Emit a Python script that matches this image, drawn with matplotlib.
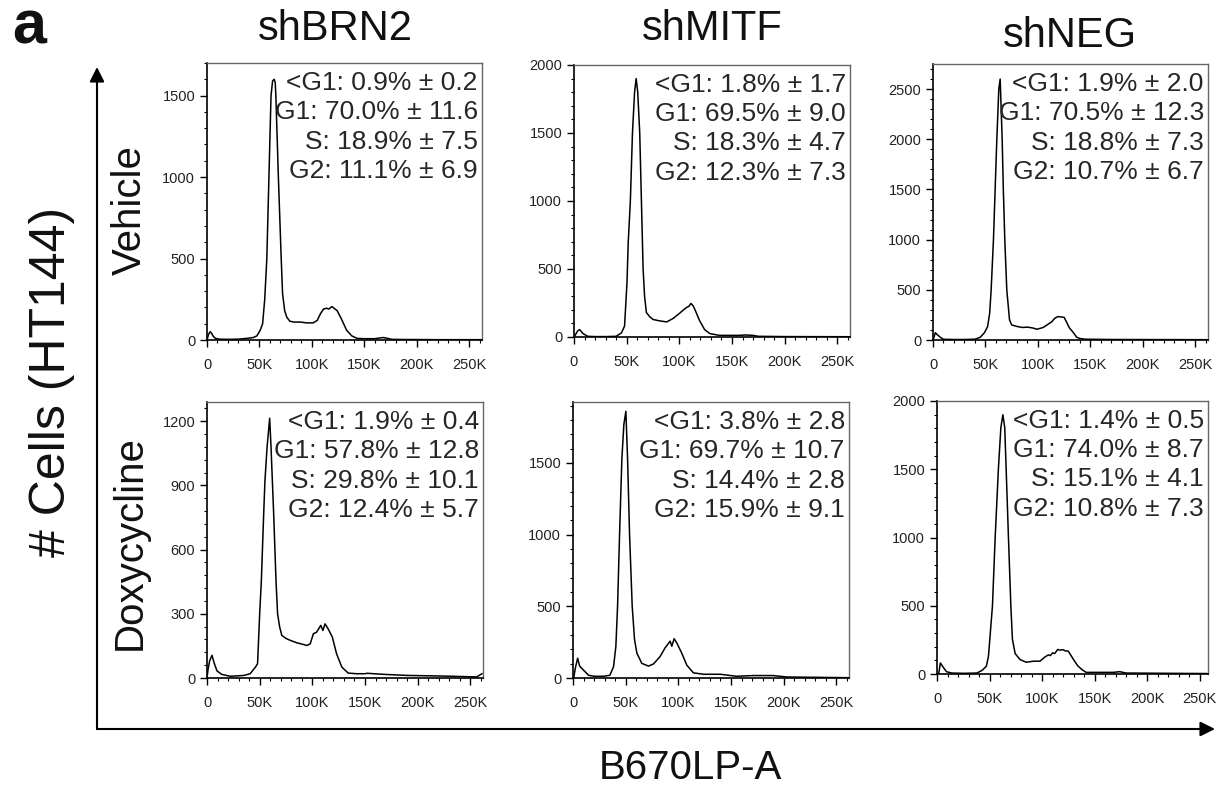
import numpy as np
import matplotlib.pyplot as plt
from matplotlib.ticker import AutoMinorLocator, FixedLocator

plt.rcParams['font.family'] = ['Liberation Sans', 'DejaVu Sans']

# DNA content histograms, x in thousands (B670LP-A), y = # cells
brn2_veh_x = [0, 1.5, 3, 4.5, 6, 8, 12, 20, 30, 38, 44, 47.5, 50.7, 53, 55, 57, 59, 61, 62.5, 64,
              65, 65.6, 68, 70.7, 72, 74, 76, 79, 83, 89, 95, 101, 105, 108, 111, 114, 116, 119, 121, 124,
              128, 133, 138, 143, 150, 160, 164, 168, 172, 176, 190, 220, 262]
brn2_veh_y = [0, 35, 51, 40, 22, 10, 5, 4, 5, 10, 15, 25, 60, 100, 250, 500, 1000, 1500, 1590, 1600,
              1580, 1500, 1000, 500, 285, 180, 140, 115, 110, 110, 105, 105, 120, 160, 190, 195, 190, 205, 195, 180,
              130, 60, 25, 10, 8, 8, 12, 15, 10, 4, 3, 2, 2]

mitf_veh_x = [0, 2, 3.5, 5.4, 8.6, 13, 20, 30, 40, 45, 48, 50.3, 51.5, 53.5, 55.5, 57.5, 59, 60.5, 62.4, 64,
              65.6, 67, 68.7, 72, 75, 81, 88, 94, 100, 104, 107, 109, 111, 113, 115, 119, 124, 129, 138, 157,
              163, 170, 175, 200, 262]
mitf_veh_y = [0, 25, 45, 54, 25, 5, 3, 3, 5, 30, 80, 400, 700, 1000, 1500, 1800, 1900, 1800, 1500, 1000,
              500, 300, 180, 148, 129, 119, 111, 136, 173, 200, 218, 225, 247, 230, 198, 124, 54, 25, 12, 12,
              15, 12, 5, 3, 2]

neg_veh_x = [0, 1, 2.2, 4.4, 7, 10, 20, 30, 40, 45, 49, 52, 54, 55.4, 57.6, 59.2, 60.8, 62.7, 64, 65.9,
             67, 68.4, 70.3, 72.9, 75, 80, 85, 90, 95, 99, 105, 110, 113, 116, 119, 122, 125, 127, 130, 133,
             137, 140, 145, 170, 262]
neg_veh_y = [0, 30, 73, 50, 27, 7, 5, 5, 8, 27, 73, 133, 267, 500, 1000, 1500, 2000, 2500, 2600, 2000,
             1500, 1000, 500, 200, 150, 135, 125, 128, 120, 107, 125, 160, 180, 217, 233, 230, 225, 183, 120, 83,
             27, 15, 8, 5, 3]

brn2_dox_x = [0, 1, 2.5, 4.7, 7, 9.5, 14, 22, 35, 41, 46, 48, 50, 51.6, 53.8, 55, 57, 59.5, 60.8, 63.3,
              65.5, 67, 69, 71, 75, 79, 85, 89, 95, 98, 101, 104, 106, 108, 110, 112, 115, 119, 123, 128,
              134, 142, 150, 152, 168, 190, 225, 256, 261]
brn2_dox_y = [0, 40, 80, 106, 67, 33, 17, 8, 12, 20, 51, 67, 300, 455, 766, 921, 1077, 1214, 1077, 766,
              455, 300, 238, 199, 185, 176, 165, 160, 152, 160, 207, 214, 230, 246, 222, 253, 230, 191, 113, 51,
              23, 20, 20, 22, 17, 12, 9, 5, 20]

mitf_dox_x = [0, 0.6, 2.5, 4.4, 6.3, 10, 14.8, 20, 29, 35, 38.5, 40.7, 42.3, 44.2, 46.4, 48.3, 50.2, 51.8, 53.7, 56.2,
              58.4, 60.6, 65.3, 71.7, 76.4, 82.7, 87.4, 92.2, 93.8, 96, 98.5, 103.2, 108, 114.3, 124, 140, 155, 171, 190, 203,
              262]
mitf_dox_y = [0, 0, 79, 138, 83, 55, 19, 12, 12, 19, 79, 221, 500, 1000, 1531, 1769, 1860, 1531, 1000, 500,
              269, 174, 102, 83, 98, 150, 210, 257, 221, 274, 245, 174, 90, 36, 26, 26, 12, 17, 17, 7,
              2]

neg_dox_x = [0, 1.6, 3.2, 5.7, 9, 14, 25, 38, 43, 47, 49, 52.8, 55.4, 58.5, 60.8, 62.7, 64.5, 65.8, 68, 70.3,
             71.8, 74.4, 79, 85, 92, 98, 103, 106, 108, 110, 112, 115, 117, 120, 122, 125, 128, 131, 134, 138,
             142, 168, 174, 180, 262]
neg_dox_y = [0, 0, 81, 52, 17, 7, 5, 7, 27, 57, 130, 500, 1005, 1510, 1805, 1899, 1805, 1510, 1005, 500,
             254, 150, 106, 86, 94, 94, 126, 140, 135, 155, 150, 180, 175, 178, 170, 167, 130, 94, 60, 32,
             12, 12, 17, 7, 3]

# cell-cycle phase percentages (mean ± sd)
brn2_veh_txt = ['<G1: 0.9% ± 0.2', 'G1: 70.0% ± 11.6', 'S: 18.9% ± 7.5', 'G2: 11.1% ± 6.9']
mitf_veh_txt = ['<G1: 1.8% ± 1.7', 'G1: 69.5% ± 9.0', 'S: 18.3% ± 4.7', 'G2: 12.3% ± 7.3']
neg_veh_txt = ['<G1: 1.9% ± 2.0', 'G1: 70.5% ± 12.3', 'S: 18.8% ± 7.3', 'G2: 10.7% ± 6.7']
brn2_dox_txt = ['<G1: 1.9% ± 0.4', 'G1: 57.8% ± 12.8', 'S: 29.8% ± 10.1', 'G2: 12.4% ± 5.7']
mitf_dox_txt = ['<G1: 3.8% ± 2.8', 'G1: 69.7% ± 10.7', 'S: 14.4% ± 2.8', 'G2: 15.9% ± 9.1']
neg_dox_txt = ['<G1: 1.4% ± 0.5', 'G1: 74.0% ± 8.7', 'S: 15.1% ± 4.1', 'G2: 10.8% ± 7.3']

x_ticks = [0, 50, 100, 150, 200, 250]
x_ticklabels = ['0', '50K', '100K', '150K', '200K', '250K']

W, H = 1216, 785
fig = plt.figure(figsize=(W / 100, H / 100), dpi=100)


def px_rect(l, r, t, b):
    return [l / W, 1 - b / H, (r - l) / W, (b - t) / H]


panels = [
    (brn2_veh_x, brn2_veh_y, brn2_veh_txt, (207, 482, 63, 340), 1700, 262, np.arange(0, 1501, 500)),
    (mitf_veh_x, mitf_veh_y, mitf_veh_txt, (574, 850, 65, 337), 2000, 262, np.arange(0, 2001, 500)),
    (neg_veh_x, neg_veh_y, neg_veh_txt, (933, 1208, 64, 340), 2750, 262, np.arange(0, 2501, 500)),
    (brn2_dox_x, brn2_dox_y, brn2_dox_txt, (207, 483, 402, 678), 1290, 262, np.arange(0, 1201, 300)),
    (mitf_dox_x, mitf_dox_y, mitf_dox_txt, (573, 849, 402, 678), 1925, 262, np.arange(0, 1501, 500)),
    (neg_dox_x, neg_dox_y, neg_dox_txt, (937, 1208, 401, 674), 2000, 258, np.arange(0, 2001, 500)),
]

for xs, ys, txt, box, ymax, xmax, yt in panels:
    ax = fig.add_axes(px_rect(*box))
    ax.plot(xs, ys, color='black', lw=1.1)
    ax.set_xlim(0, xmax)
    ax.set_ylim(0, ymax)
    ax.xaxis.set_major_locator(FixedLocator(x_ticks))
    ax.set_xticklabels(x_ticklabels)
    ax.set_yticks(yt)
    ax.xaxis.set_minor_locator(AutoMinorLocator(5))
    ax.yaxis.set_minor_locator(AutoMinorLocator(5))
    ax.tick_params(which='major', length=5, width=1, labelsize=10.5, colors='black', labelcolor='#222222')
    ax.tick_params(which='minor', length=2.5, width=0.8)
    ax.tick_params(axis='x', pad=8)
    for s in ['left', 'bottom']:
        ax.spines[s].set_linewidth(1.2)
    for s in ['top', 'right']:
        ax.spines[s].set_color('#666666')
        ax.spines[s].set_linewidth(1.0)
    ax.text(0.985, 0.97, '\n'.join(txt), transform=ax.transAxes, ha='right', va='top',
            fontsize=19, color='#262626', linespacing=1.27)

# column and row headings
for name, cx, cy in [('shBRN2', 335, 29), ('shMITF', 712, 29), ('shNEG', 1070, 36)]:
    fig.text(cx / W, 1 - cy / H, name, ha='center', va='center', fontsize=30, color='#111111')
for name, cy in [('Vehicle', 210), ('Doxycycline', 543)]:
    fig.text(130 / W, 1 - cy / H, name, ha='center', va='center', rotation=90, fontsize=29, color='#111111')

fig.text(52 / W, 1 - 382 / H, '# Cells (HT144)', ha='center', va='center', rotation=90,
         fontsize=36, color='#111111')
fig.text(690 / W, 1 - 768 / H, 'B670LP-A', ha='center', va='center', fontsize=29, color='#111111')
fig.text(12 / W, 1 - 28 / H, 'a', ha='left', va='center', fontsize=44, fontweight='bold', color='#111111')

# axis arrows
over = fig.add_axes([0, 0, 1, 1])
over.set_xlim(0, W)
over.set_ylim(H, 0)
over.axis('off')
arrow = dict(arrowstyle='-|>', color='black', lw=1.5, mutation_scale=22, shrinkA=0, shrinkB=0)
over.annotate('', xy=(97, 67), xytext=(97, 729), arrowprops=arrow)
over.annotate('', xy=(1215, 729), xytext=(97, 729), arrowprops=arrow)

fig.savefig('out.png', dpi=100)
